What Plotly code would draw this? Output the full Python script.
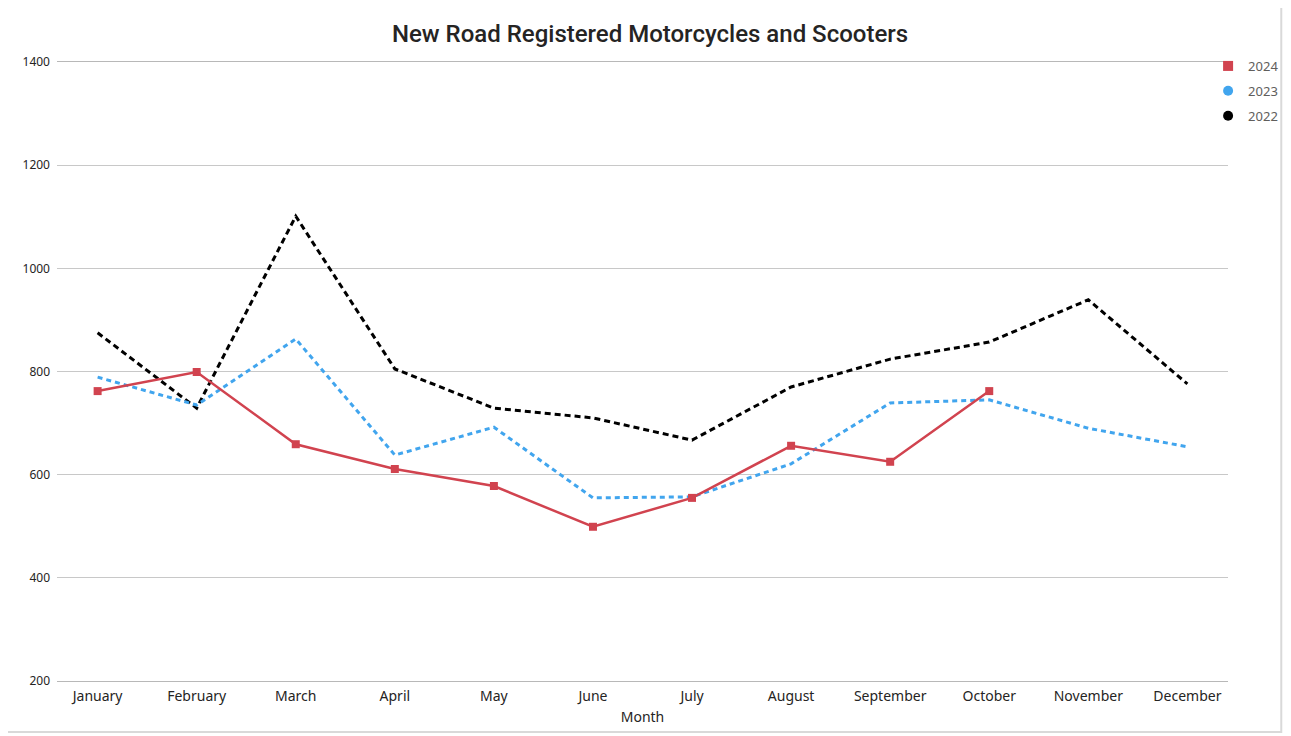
import plotly.graph_objects as go

months = ["January", "February", "March", "April", "May", "June", "July",
          "August", "September", "October", "November", "December"]
y2024 = [762, 799, 659, 611, 578, 499, 555, 656, 625, 762]
y2023 = [789, 735, 863, 638, 692, 555, 557, 621, 739, 745, 690, 654]
y2022 = [875, 729, 1101, 805, 729, 710, 667, 770, 824, 857, 939, 776]
yticks = [200, 400, 600, 800, 1000, 1200, 1400]

RED = "#D1434F"
BLUE = "#41A5EE"
BLACK = "#000000"

W, H = 1283, 728

fig = go.Figure()
fig.add_trace(go.Scatter(x=months, y=y2022, mode="lines", showlegend=False,
                         line=dict(color=BLACK, width=3, dash="6px,4px")))
fig.add_trace(go.Scatter(x=months, y=y2023, mode="lines", showlegend=False,
                         line=dict(color=BLUE, width=3, dash="5px,4px")))
fig.add_trace(go.Scatter(x=months[:len(y2024)], y=y2024, mode="lines+markers", showlegend=False,
                         line=dict(color=RED, width=2.5),
                         marker=dict(symbol="square", size=8, color=RED)))

# legend entries
fig.add_trace(go.Scatter(x=[None], y=[None], mode="markers", name="2024", legendgroup="a",
                         marker=dict(symbol="square", size=10, color=RED)))
fig.add_trace(go.Scatter(x=[None], y=[None], mode="markers", name="2023", legendgroup="b",
                         marker=dict(symbol="circle", size=10, color=BLUE)))
fig.add_trace(go.Scatter(x=[None], y=[None], mode="markers", name="2022", legendgroup="c",
                         marker=dict(symbol="circle", size=10, color=BLACK)))

fig.update_layout(
    width=W, height=H,
    margin=dict(l=49, r=63, t=54, b=55, autoexpand=False),
    paper_bgcolor="white", plot_bgcolor="white",
    title=dict(text="New Road Registered Motorcycles and Scooters",
               font=dict(family="Roboto", size=24, color="#252423", weight=500),
               x=0.5064, xanchor="center", xref="paper", y=1 - 26 / H, yref="container",
               yanchor="middle"),
    legend=dict(x=0.983, xanchor="left", y=1.0178, yanchor="top",
                font=dict(family="Noto Sans", size=13, color="#605E5C"),
                itemwidth=30, tracegroupgap=5, traceorder="grouped",
                bgcolor="rgba(0,0,0,0)"),
    font=dict(family="Noto Sans", color="#252423"),
    xaxis=dict(type="category", categoryorder="array", categoryarray=months,
               range=[-0.41, 11.41], showgrid=False,
               showline=True, linecolor="#B8B8B8", linewidth=1, mirror=True,
               ticks="", tickfont=dict(size=14, color="#252423"), ticklabelstandoff=2,
               title=dict(text="Month", font=dict(size=14, color="#252423"), standoff=8),
               zeroline=False, fixedrange=True),
    yaxis=dict(range=[200, 1400], tickvals=yticks, showgrid=True,
               gridcolor="#C8C8C8", gridwidth=1, zeroline=False, showline=False,
               ticks="", tickfont=dict(size=12, color="#252423"), ticklabelstandoff=6),
)

# outer frame
fig.add_shape(type="rect", xref="paper", yref="paper",
              x0=-0.06, x1=1.0455, y0=-0.0824, y1=1.1,
              line=dict(color="#D9D9D9", width=2), fillcolor="rgba(0,0,0,0)", layer="below")

fig.write_html("out.html")
